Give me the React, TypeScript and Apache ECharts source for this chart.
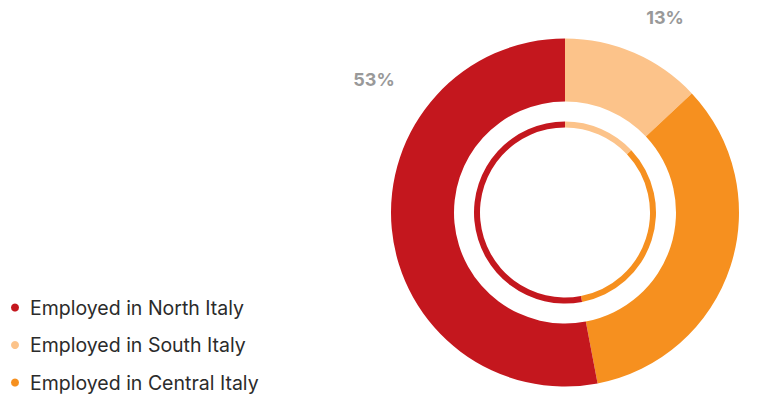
import React, { useEffect, useRef } from "react";
import * as echarts from "echarts";

const categories = ["Employed in South Italy", "Employed in Central Italy", "Employed in North Italy"];
const values = [13, 34, 53];
const legendOrder = ["Employed in North Italy", "Employed in South Italy", "Employed in Central Italy"];
const colors = ["#FCC38A", "#F6901F", "#C4171E"];
const labelPositions: [number, number][] = [
  [665, 17],
  [751, 344],
  [374, 79],
];

export default function App() {
  const ref = useRef<HTMLDivElement>(null);
  useEffect(() => {
    if (!ref.current) return;
    const chart = echarts.init(ref.current, null, { renderer: "svg" });
    const data = categories.map((name, i) => ({ name, value: values[i], itemStyle: { color: colors[i] } }));
    chart.setOption({
      animation: false,
      backgroundColor: "#ffffff",
      legend: {
        data: legendOrder,
        orient: "vertical",
        left: 6,
        top: 292.5,
        height: 120,
        padding: 5,
        icon: "circle",
        itemWidth: 8,
        itemHeight: 8,
        itemGap: 17.5,
        selectedMode: false,
        textStyle: { fontFamily: "Inter", fontSize: 19.5, lineHeight: 19, color: "#2b2b2b", padding: [0, 0, 0, 6] },
      },
      series: [
        {
          type: "pie",
          center: [565, 212.5],
          radius: [111, 174],
          startAngle: 90,
          clockwise: true,
          silent: true,
          data,
          label: {
            show: true,
            formatter: "{c}%",
            fontFamily: "Inter",
            fontWeight: "bold",
            fontSize: 18,
            color: "#999999",
          },
          labelLine: { show: false },
          labelLayout: (p: any) => ({
            x: labelPositions[p.dataIndex][0],
            y: labelPositions[p.dataIndex][1],
            align: "center",
            verticalAlign: "middle",
          }),
        },
        {
          type: "pie",
          center: [565, 212.5],
          radius: [85, 91],
          startAngle: 90,
          clockwise: true,
          silent: true,
          data: categories.map((name, i) => ({ name, value: values[i], itemStyle: { color: colors[i] } })),
          label: { show: false },
          labelLine: { show: false },
        },
      ],
    });
    return () => chart.dispose();
  }, []);
  return <div ref={ref} style={{ width: 771, height: 394, position: "absolute", left: 0, top: 0 }} />;
}
